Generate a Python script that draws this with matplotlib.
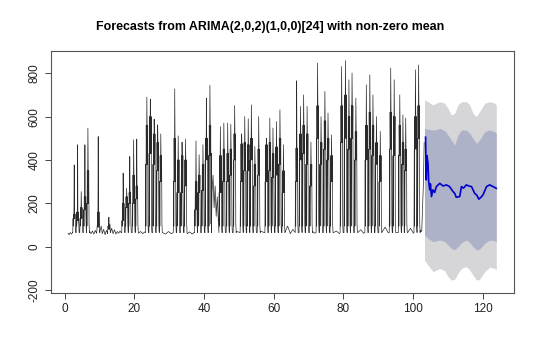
import matplotlib
matplotlib.use("Agg")
import numpy as np
from matplotlib import pyplot as plt

plt.rcParams['font.family'] = ['Liberation Sans', 'DejaVu Sans']

title = "Forecasts from ARIMA(2,0,2)(1,0,0)[24] with non-zero mean"

# daily spikes of the observed series: position, peak, lower shoulder, upper shoulder
spike_x = [2.75, 3.73, 4.76, 5.82, 6.68, 9.64, 12.7,
           16.8, 17.8, 18.7, 19.8, 20.7,
           23.6, 24.6, 25.7, 26.7, 27.6,
           31.6, 32.6, 33.7, 34.7,
           37.7, 38.6, 39.7, 40.7, 41.7,
           44.7, 45.7, 46.8, 47.7, 48.8,
           50.8, 51.7, 52.7, 53.6, 54.6, 55.7,
           57.9, 58.9, 59.8, 60.8, 61.8, 62.8,
           66.6, 67.7, 68.6, 69.6, 70.7,
           72.6, 73.6, 74.7, 75.6, 76.6,
           79.5, 80.6, 81.6, 82.5, 83.6,
           86.6, 87.6, 88.5, 89.5, 90.6,
           93.6, 94.6, 96.2, 97.1, 97.9,
           100.7, 101.6]
spike_peak = [377, 470, 254, 470, 547, 508, 136,
              339, 270, 416, 493, 496,
              690, 681, 588, 562, 520,
              728, 511, 482, 496,
              488, 424, 470, 685, 744,
              554, 570, 570, 565, 651,
              520, 600, 590, 654, 462, 600,
              500, 593, 547, 577, 631, 470,
              765, 647, 700, 647, 482,
              847, 600, 716, 616, 516,
              831, 858, 770, 801, 685,
              747, 793, 700, 600, 531,
              824, 770, 700, 608, 593,
              816, 838]
spike_s1 = [130, 160, 130, 170, 200, 90, 80,
            120, 180, 200, 200, 220,
            380, 430, 380, 350, 300,
            300, 250, 250, 280,
            170, 250, 260, 400, 420,
            250, 300, 300, 330, 400,
            300, 350, 350, 400, 280, 330,
            300, 350, 320, 330, 380, 250,
            300, 400, 430, 380, 280,
            500, 380, 450, 400, 300,
            480, 500, 450, 500, 400,
            400, 450, 420, 380, 300,
            450, 420, 420, 380, 350,
            450, 500]
spike_s2 = [150, 120, 180, 230, 350, 160, 90,
            200, 230, 250, 330, 280,
            560, 600, 520, 480, 420,
            500, 400, 420, 400,
            300, 330, 380, 500, 560,
            420, 450, 430, 450, 520,
            474, 480, 470, 500, 380, 450,
            470, 480, 430, 460, 500, 350,
            455, 520, 560, 520, 380,
            650, 480, 580, 500, 420,
            650, 700, 600, 650, 530,
            560, 620, 560, 480, 420,
            620, 600, 560, 480, 450,
            600, 650]
base_level = 65

# quiet stretches and the mid-level stretch after day 42
extra_x = [1.0, 1.3, 1.6, 2.0, 2.3,
           7.2, 7.6, 8.0, 8.4, 8.8, 9.2,
           10.1, 10.5, 10.8, 11.2, 11.6, 12.0, 12.3,
           13.1, 13.5, 13.9, 14.3, 14.7, 15.1, 15.5, 15.9, 16.3,
           21.2, 21.8, 22.4, 23.0,
           28.2, 29.0, 29.8, 30.6, 31.2,
           35.2, 35.9, 36.6, 37.2,
           42.1, 42.3, 42.6, 42.9, 43.2, 43.5, 43.8, 44.1, 44.3,
           49.3, 50.3, 56.3, 57.4,
           63.3, 64.0, 64.8, 65.5, 66.1,
           71.2, 71.8, 77.2, 78.0, 78.9,
           84.2, 85.0, 85.8, 91.2, 92.0, 92.9,
           98.5, 99.3, 100.1,
           102.1, 102.5, 103.0, 103.2]
extra_y = [62, 55, 65, 58, 66,
           70, 60, 72, 58, 75, 62,
           70, 95, 60, 80, 55, 75, 60,
           65, 85, 60, 78, 58, 70, 62, 72, 64,
           62, 70, 60, 68,
           64, 58, 70, 60, 66,
           60, 68, 58, 66,
           430, 250, 330, 180, 280, 140, 230, 120, 150,
           70, 66, 72, 64,
           68, 95, 60, 80, 66,
           70, 62, 65, 72, 60,
           66, 78, 62, 70, 90, 64,
           66, 85, 62,
           75, 70, 300, 480]

# point forecast
fc_x = [103.6, 103.8, 104.0, 104.3, 104.5, 104.8, 105.0, 105.3, 105.7, 106.2,
        106.7, 107.7, 108.6, 109.6, 110.5, 111.5, 112.0, 112.4, 113.4, 113.9,
        114.5, 115.3, 116.0, 116.8, 117.7, 118.3, 118.9, 119.5, 120.1, 121.1,
        122.0, 123.0, 123.9]
fc_mean = [505, 308, 420, 385, 300, 262, 290, 231, 262, 250,
           277, 292, 280, 285, 277, 254, 245, 228, 231, 277,
           270, 285, 280, 277, 246, 238, 219, 228, 239, 277,
           285, 277, 269]

# prediction intervals
band_x = [103.3, 104.3, 105.75, 106.7, 107.7, 109.1, 110.05, 111.0, 111.96, 112.9,
          113.9, 115.3, 116.3, 117.2, 118.2, 119.1, 120.6, 122.0, 123.4, 123.9]
hi95 = [677, 669, 654, 662, 669, 662, 638, 608, 615, 654,
        669, 669, 654, 615, 600, 623, 662, 669, 662, 654]
hi80 = [546, 541, 538, 541, 546, 535, 515, 492, 469, 515,
        538, 538, 523, 500, 477, 492, 531, 538, 531, 523]
lo80 = [54, 38, 23, 28, 31, 23, 8, -8, -15, 0,
        18, 31, 18, 0, -15, -12, 16, 31, 28, 23]
lo95 = [-61, -85, -115, -108, -100, -111, -138, -154, -151, -123,
        -100, -92, -108, -131, -154, -151, -115, -95, -100, -108]

# assemble observed series vertices (hourly wiggles within each daily spike)
pts = list(zip(extra_x, extra_y))
for x, p, a, b in zip(spike_x, spike_peak, spike_s1, spike_s2):
    pts += [(x - 0.42, base_level), (x - 0.33, a), (x - 0.27, base_level + 30),
            (x - 0.18, b), (x - 0.09, a), (x, p), (x + 0.08, b), (x + 0.16, a),
            (x + 0.24, b), (x + 0.33, base_level + 40), (x + 0.44, base_level)]
pts.sort()
obs_x = [q[0] for q in pts]
obs_y = [q[1] for q in pts]

fig = plt.figure(figsize=(5.4, 3.56), dpi=100)
ax = fig.add_axes([0.0944, 0.178, 0.857, 0.679])

ax.fill_between(band_x, lo95, hi95, color='#D6D6D9', lw=0)
ax.fill_between(band_x, lo80, hi80, color='#ADB2C9', lw=0)
ax.plot(obs_x, obs_y, color='#2a2a2a', lw=0.5)
ax.plot(fc_x, fc_mean, color='#0000CD', lw=1.2)

ax.set_xlim(-3.92, 128.92)
ax.set_ylim(-212, 903)
ax.set_xticks([0, 20, 40, 60, 80, 100, 120])
ax.set_yticks([-200, 0, 200, 400, 600, 800])
ax.set_yticklabels(['-200', '0', '200', '400', '600', '800'], rotation=90, va='center')
ax.tick_params(direction='out', length=4.5, width=0.7, colors='#444444',
               labelcolor='#222222', labelsize=8.5, pad=3)
for s in ax.spines.values():
    s.set_color('#555555')
    s.set_linewidth(0.8)

fig.text(0.5, 1 - 27 / 356, title, ha='center', va='center', fontsize=8.9, fontweight='bold')

fig.savefig('out.png', dpi=100)
